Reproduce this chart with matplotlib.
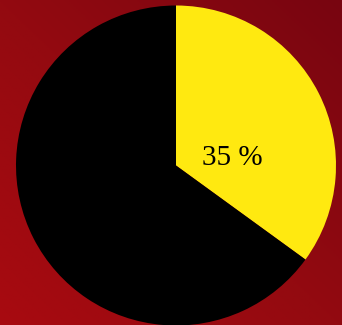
import numpy as np
import matplotlib.pyplot as plt
from matplotlib.colors import LinearSegmentedColormap

# share shown in the pie
labels = ["yes", "no"]
values = [35, 65]
colors = ["#ffe910", "#000000"]

W, H = 342, 325
fig = plt.figure(figsize=(W / 100, H / 100), dpi=100)

# dark red diagonal gradient background
bg = fig.add_axes([0, 0, 1, 1])
xx, yy = np.meshgrid(np.linspace(0, 1, 200), np.linspace(0, 1, 200))
grad = (xx + yy) / 2  # 0 at bottom-left, 1 at top-right
cmap = LinearSegmentedColormap.from_list("bg", ["#a80a10", "#930a10", "#780510"])
bg.imshow(grad, cmap=cmap, aspect="auto", origin="lower", extent=[0, 1, 0, 1])
bg.axis("off")

ax = fig.add_axes([0, 0, 1, 1])
ax.patch.set_alpha(0)

wedges, texts, autotexts = ax.pie(
    values, colors=colors, startangle=90, counterclock=False,
    center=(176, 159.5), radius=160, autopct="%d %%",
    textprops=dict(family="Liberation Serif", fontsize=21, color="black"),
    wedgeprops=dict(linewidth=0), frame=True)
ax.set_xlim(0, W)
ax.set_ylim(0, H)
ax.set_aspect("equal")
ax.axis("off")
autotexts[0].set_position((232, 167))
autotexts[1].set_visible(False)

fig.savefig("out.png", dpi=100)
